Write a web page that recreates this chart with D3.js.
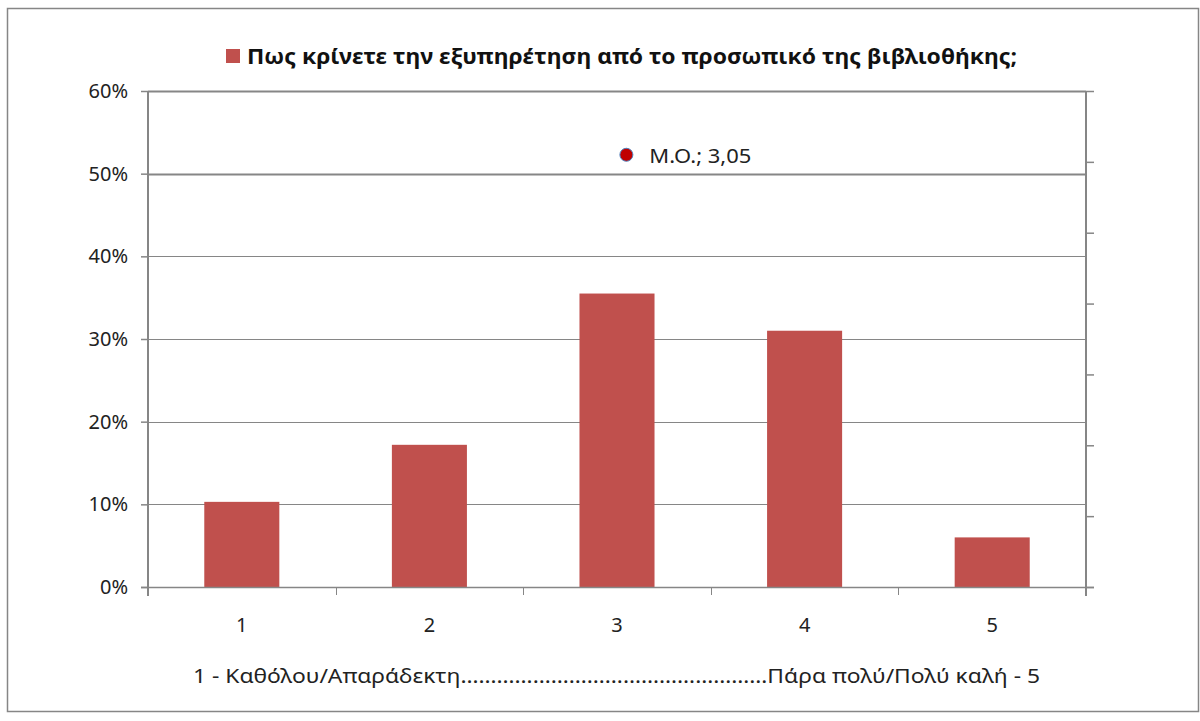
<!DOCTYPE html>
<html>
<head>
<meta charset="utf-8">
<script src="https://cdn.jsdelivr.net/npm/d3@7"></script>
<style>
  body { margin: 0; background: #fff; }
  svg { display: block; font-family: "Noto Sans", "DejaVu Sans", sans-serif; }
</style>
</head>
<body>
<svg id="chart"></svg>
<script>
let width = 1200,
  height = 721;

// chart data
const categories = ["1", "2", "3", "4", "5"];
const shares = [0.103, 0.172, 0.355, 0.31, 0.06];
const yTicks = [0, 0.1, 0.2, 0.3, 0.4, 0.5, 0.6];
const y2Ticks = [0, 0.5, 1, 1.5, 2, 2.5, 3, 3.5];
const meanValue = 3.05;
const meanLabel = "M.O.; 3,05";
const seriesName = "Πως κρίνετε την εξυπηρέτηση από το προσωπικό της βιβλιοθήκης;";
const axisTitle =
  "1 -  Καθόλου/Απαράδεκτη……………………………………………Πάρα πολύ/Πολύ καλή - 5";

const barColor = "#C0504D",
  gridColor = "#868686",
  fontFamily = '"Noto Sans", "DejaVu Sans", sans-serif';

let svg = d3
  .select("#chart")
  .attr("width", width)
  .attr("height", height);

// chart border
svg
  .append("rect")
  .attr("x", 7.5)
  .attr("y", 8.5)
  .attr("width", 1191)
  .attr("height", 703)
  .attr("fill", "none")
  .attr("stroke", gridColor)
  .attr("stroke-width", 1.5);

let plot = { left: 148, right: 1086, top: 91, bottom: 587 };

// Scales
var x = d3
  .scaleBand()
  .domain(categories)
  .range([plot.left, plot.right])
  .paddingInner(0.6)
  .paddingOuter(0.3);

var y = d3.scaleLinear().domain([0, 0.6]).range([plot.bottom, plot.top]);
var y2 = d3.scaleLinear().domain([0, 3.5]).range([plot.bottom, plot.top]);

// numeric x for the mean point (category 1..5 centres)
var xNum = d3
  .scaleLinear()
  .domain([1, 5])
  .range([
    x(categories[0]) + x.bandwidth() / 2,
    x(categories[4]) + x.bandwidth() / 2,
  ]);

// Gridlines
svg
  .append("g")
  .selectAll("line")
  .data(yTicks.filter((d) => d > 0))
  .enter()
  .append("line")
  .attr("x1", plot.left)
  .attr("x2", plot.right)
  .attr("y1", (d) => Math.round(y(d)) + 0.5)
  .attr("y2", (d) => Math.round(y(d)) + 0.5)
  .attr("stroke", gridColor)
  .attr("stroke-width", (d) => (d >= 0.5 ? 2 : 1));

// Bars
svg
  .append("g")
  .selectAll("rect")
  .data(shares)
  .enter()
  .append("rect")
  .attr("x", (d, i) => x(categories[i]))
  .attr("y", (d) => y(d))
  .attr("width", x.bandwidth())
  .attr("height", (d) => y(0) - y(d))
  .attr("fill", barColor);

// Left axis
var yAxis = d3
  .axisLeft(y)
  .tickValues(yTicks)
  .tickFormat(d3.format(".0%"))
  .tickSize(7)
  .tickPadding(13);

var gy = svg
  .append("g")
  .attr("transform", "translate(" + plot.left + ",0)")
  .call(yAxis);
gy.select(".domain").remove();
gy.selectAll(".tick line").attr("stroke", gridColor).attr("stroke-width", 1.5);
gy.selectAll(".tick text")
  .attr("fill", "#222")
  .style("font-family", fontFamily)
  .style("font-size", "20px");
gy.append("line")
  .attr("y1", plot.top)
  .attr("y2", plot.bottom + 9)
  .attr("stroke", gridColor)
  .attr("stroke-width", 2);

// Right (secondary) axis
var y2Axis = d3.axisRight(y2).tickValues(y2Ticks).tickSize(8).tickFormat("");
var gy2 = svg
  .append("g")
  .attr("transform", "translate(" + plot.right + ",0)")
  .call(y2Axis);
gy2.select(".domain").remove();
gy2.selectAll(".tick line").attr("stroke", gridColor).attr("stroke-width", 1.5);
gy2
  .append("line")
  .attr("y1", plot.top)
  .attr("y2", plot.bottom + 9)
  .attr("stroke", gridColor)
  .attr("stroke-width", 2);

// Bottom axis
var xAxis = d3.axisBottom(x).tickSize(0).tickPadding(31);
var gx = svg
  .append("g")
  .attr("transform", "translate(0," + plot.bottom + ")")
  .call(xAxis);
gx.select(".domain").remove();
gx.selectAll(".tick text")
  .attr("fill", "#222")
  .style("font-family", fontFamily)
  .style("font-size", "20px");
gx.append("line")
  .attr("x1", plot.left - 7)
  .attr("x2", plot.right + 8)
  .attr("y1", 0.5)
  .attr("y2", 0.5)
  .attr("stroke", gridColor)
  .attr("stroke-width", 1.5);
gx.selectAll(".sep")
  .data(categories.slice(1))
  .enter()
  .append("line")
  .attr("x1", (d) => Math.round(x(d) - (x.step() * x.paddingInner()) / 2) + 0.5)
  .attr("x2", (d) => Math.round(x(d) - (x.step() * x.paddingInner()) / 2) + 0.5)
  .attr("y1", 0)
  .attr("y2", 8)
  .attr("stroke", gridColor);

// Axis title
svg
  .append("text")
  .attr("x", 193)
  .attr("y", 683)
  .attr("textLength", 847)
  .attr("lengthAdjust", "spacingAndGlyphs")
  .style("font-size", "20px")
  .attr("fill", "#222")
  .text(axisTitle);

// Mean point on secondary axis
svg
  .append("circle")
  .attr("cx", xNum(meanValue))
  .attr("cy", y2(meanValue))
  .attr("r", 6.5)
  .attr("fill", "#C00000")
  .attr("stroke", "#4F81BD")
  .attr("stroke-width", 1);

svg
  .append("text")
  .attr("x", xNum(meanValue) + 23)
  .attr("y", y2(meanValue) + 8)
  .attr("textLength", 102)
  .attr("lengthAdjust", "spacingAndGlyphs")
  .style("font-size", "20px")
  .attr("fill", "#222")
  .text(meanLabel);

// Legend
var legend = svg.append("g");
legend
  .append("rect")
  .attr("x", 226)
  .attr("y", 49)
  .attr("width", 14)
  .attr("height", 14)
  .attr("fill", barColor);
legend
  .append("text")
  .attr("x", 247)
  .attr("y", 64)
  .attr("textLength", 770)
  .attr("lengthAdjust", "spacingAndGlyphs")
  .style("font-size", "22px")
  .style("font-weight", "bold")
  .attr("fill", "#111")
  .text(seriesName);
</script>
</body>
</html>
